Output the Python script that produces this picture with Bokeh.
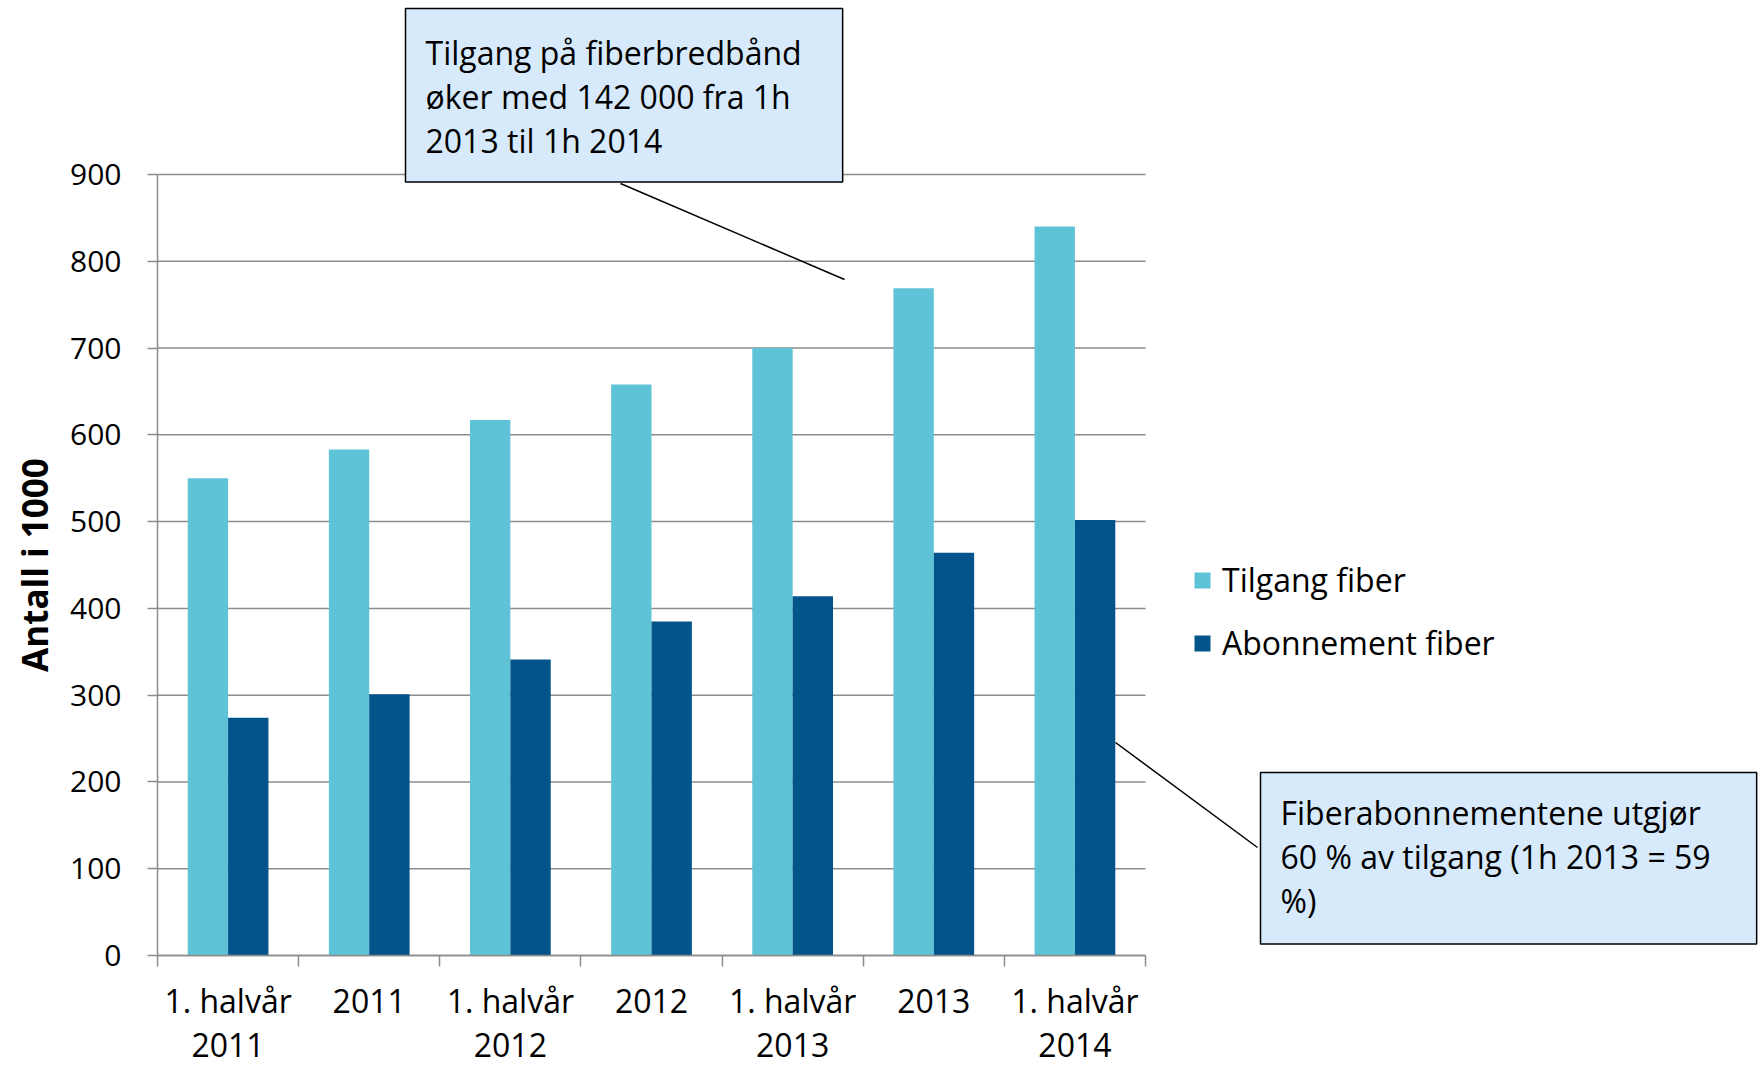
import math
from bokeh.plotting import figure
from bokeh.models import Range1d, FixedTicker, Label, Arrow, Legend, LegendItem, ColumnDataSource
from bokeh.embed import file_html
from bokeh.resources import INLINE

# ---------------- data ----------------
categories = ["1. halvår\n2011", "2011", "1. halvår\n2012", "2012",
              "1. halvår\n2013", "2013", "1. halvår\n2014"]
tilgang_fiber = [550, 583, 617, 658, 700, 769, 840]
abonnement_fiber = [274, 301, 341, 385, 414, 464, 502]
series_names = ["Tilgang fiber", "Abonnement fiber"]
y_ticks = [0, 100, 200, 300, 400, 500, 600, 700, 800, 900]
y_label = "Antall i 1000"
note_top = "Tilgang på fiberbredbånd\nøker med 142 000 fra 1h\n2013 til 1h 2014"
note_right = "Fiberabonnementene utgjør\n60 % av tilgang (1h 2013 = 59\n%)"

# ---------------- style ----------------
FONT = "Open Sans"
C_LIGHT = "#5FC3D7"
C_DARK = "#02548A"
GRID = "#8C8C8C"
BOX_FILL = "#D6EAFB"

W, H = 1760, 1065
AX_L, AX_R = 157, 1145     # pixel x of category span (left axis .. last boundary)
Y0_PX, YTOP_PX = 955, 174  # pixel y of value 0 and of the top tick
n = len(categories)
y_max = y_ticks[-1]

def xd(px):   # canvas px -> data x
    return (px - AX_L) / (AX_R - AX_L) * n

def yd(py):   # canvas px -> data y
    return (Y0_PX - py) / (Y0_PX - YTOP_PX) * y_max

p = figure(frame_width=W, frame_height=H,
           x_range=Range1d(xd(0), xd(W)), y_range=Range1d(yd(H), yd(0)),
           output_backend="svg", toolbar_location=None,
           min_border_left=0, min_border_top=0,
           min_border_right=0, min_border_bottom=0)
p.outline_line_color = None
p.background_fill_color = "white"
p.border_fill_color = "white"
p.xgrid.visible = False
p.ygrid.visible = False

# horizontal grid lines over the category span only
p.segment(x0=[0] * len(y_ticks), x1=[n] * len(y_ticks), y0=y_ticks, y1=y_ticks,
          line_color=GRID, line_width=1.5)

centers = [i + 0.5 for i in range(n)]
bw = 0.286
src = ColumnDataSource(dict(
    xt=[c - bw / 2 for c in centers],
    xa=[c + bw / 2 for c in centers],
    tilgang=tilgang_fiber, abonnement=abonnement_fiber))

r1 = p.vbar(x="xt", top="tilgang", width=bw, source=src, fill_color=C_LIGHT, line_color=None)
r2 = p.vbar(x="xa", top="abonnement", width=bw, source=src, fill_color=C_DARK, line_color=None)

# x axis (drawn at y = 0 of the data)
xa = p.xaxis[0]
xa.fixed_location = 0
xa.bounds = (0, n)
xa.ticker = FixedTicker(ticks=centers, minor_ticks=list(range(n + 1)))
xa.major_label_overrides = {c: lab for c, lab in zip(centers, categories)}
xa.major_tick_out = 0
xa.major_tick_in = 0
xa.minor_tick_out = 11
xa.minor_tick_in = 0
xa.minor_tick_line_color = GRID
xa.minor_tick_line_width = 1.5
xa.axis_line_color = GRID
xa.axis_line_width = 1.5
xa.major_label_text_font = FONT
xa.major_label_text_font_size = "32px"
xa.major_label_text_color = "black"
xa.major_label_text_line_height = 1.03
xa.major_label_standoff = 12

# y axis (drawn at x = 0 of the data)
ya = p.yaxis[0]
ya.fixed_location = 0
ya.bounds = (0, y_max)
ya.ticker = FixedTicker(ticks=y_ticks)
ya.major_tick_out = 10
ya.major_tick_in = 0
ya.major_tick_line_color = GRID
ya.major_tick_line_width = 1.5
ya.minor_tick_line_color = None
ya.axis_line_color = GRID
ya.axis_line_width = 1.5
ya.major_label_text_font = FONT
ya.major_label_text_font_size = "30px"
ya.major_label_text_color = "black"
ya.major_label_standoff = 26

# y axis title, centred on the 0..900 span
p.add_layout(Label(x=xd(34), y=y_max / 2, text=y_label, angle=math.pi / 2,
                   text_align="center", text_baseline="middle",
                   text_font=FONT, text_font_size="35px", text_font_style="bold",
                   text_color="black"))

# legend
legend = Legend(items=[LegendItem(label=series_names[0], renderers=[r1]),
                       LegendItem(label=series_names[1], renderers=[r2])],
                location=(1192, H - 664), orientation="vertical",
                padding=0, margin=0, border_line_color=None, background_fill_alpha=0,
                glyph_width=20, glyph_height=20, label_standoff=10, spacing=20,
                label_text_font=FONT, label_text_font_size="32px", label_height=20,
                label_text_color="black")
p.add_layout(legend)

# callouts
for txt, (bx, by), pad in [(note_top, (405, 8), dict(left=20, right=41, top=22, bottom=20)),
                           (note_right, (1260, 772), dict(left=20, right=46, top=18, bottom=22))]:
    p.add_layout(Label(x=xd(bx), y=yd(by), text=txt, text_align="left", text_baseline="top",
                       text_font=FONT, text_font_size="32px", text_line_height=1.03,
                       text_color="black", background_fill_color=BOX_FILL,
                       border_line_color="black", border_line_width=1.5, padding=pad))

for (x0, y0), (x1, y1) in [((620, 183), (844, 279)), ((1115, 742), (1257, 847))]:
    p.add_layout(Arrow(x_start=xd(x0), y_start=yd(y0), x_end=xd(x1), y_end=yd(y1),
                       start=None, end=None, line_color="black", line_width=1.5))

open("out.html", "w").write(file_html(p, INLINE))
